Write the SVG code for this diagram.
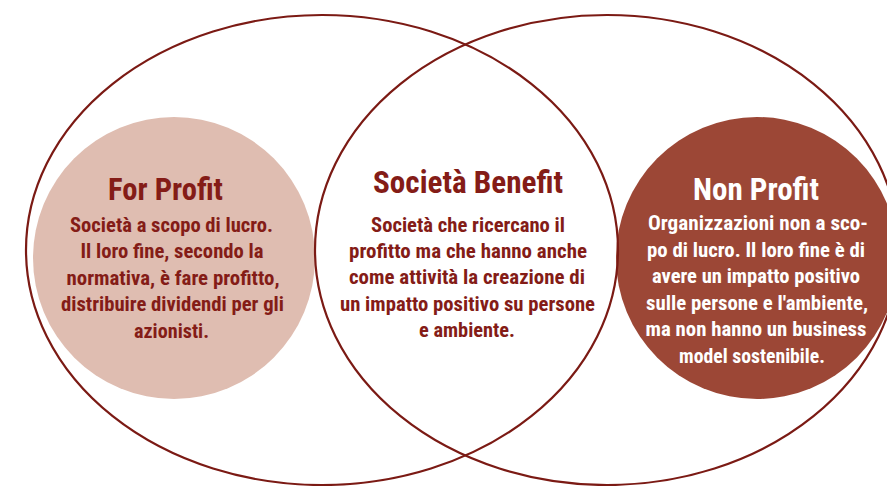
<svg xmlns="http://www.w3.org/2000/svg" width="887" height="486" viewBox="0 0 887 486">
<style>
.ring{fill:none;stroke:#7b1a14;stroke-width:2.2}
.t{font-family:"Roboto Condensed",Roboto,"Liberation Sans",sans-serif;font-weight:700;text-anchor:middle}
.title{font-size:31px}
.body{font-size:21px}
.dark{fill:#841c17}
.light{fill:#ffffff}
</style>
<rect width="887" height="486" fill="#ffffff"/>
<g id="for-profit">
<circle cx="174" cy="258" r="141" fill="#dfbdb1"/>
<text class="t title dark" x="165.5" y="200" textLength="115" lengthAdjust="spacingAndGlyphs">For Profit</text>
<text class="t body dark" x="171.5" y="232" textLength="203" lengthAdjust="spacingAndGlyphs">Società a scopo di lucro.</text>
<text class="t body dark" x="172" y="258" textLength="183" lengthAdjust="spacingAndGlyphs">Il loro fine, secondo la</text>
<text class="t body dark" x="173" y="284.5" textLength="213" lengthAdjust="spacingAndGlyphs">normativa, è fare profitto,</text>
<text class="t body dark" x="172.5" y="311" textLength="223" lengthAdjust="spacingAndGlyphs">distribuire dividendi per gli</text>
<text class="t body dark" x="171.5" y="337.5" textLength="75" lengthAdjust="spacingAndGlyphs">azionisti.</text>
</g>
<g id="non-profit">
<circle cx="757" cy="258" r="141" fill="#9c4736"/>
<text class="t title light" x="756" y="200" textLength="126" lengthAdjust="spacingAndGlyphs">Non Profit</text>
<text class="t body light" x="758" y="230" textLength="220" lengthAdjust="spacingAndGlyphs">Organizzazioni non a sco-</text>
<text class="t body light" x="756" y="256.5" textLength="218" lengthAdjust="spacingAndGlyphs">po di lucro. Il loro fine è di</text>
<text class="t body light" x="756" y="283" textLength="208" lengthAdjust="spacingAndGlyphs">avere un impatto positivo</text>
<text class="t body light" x="757" y="309.5" textLength="222" lengthAdjust="spacingAndGlyphs">sulle persone e l'ambiente,</text>
<text class="t body light" x="756" y="336" textLength="221" lengthAdjust="spacingAndGlyphs">ma non hanno un business</text>
<text class="t body light" x="752" y="362.5" textLength="146" lengthAdjust="spacingAndGlyphs">model sostenibile.</text>
</g>
<g id="connectors">
<ellipse class="ring" cx="322" cy="250" rx="296" ry="235"/>
<ellipse class="ring" cx="607" cy="250" rx="292" ry="235"/>
</g>
<g id="societa-benefit">
<text class="t title dark" x="468" y="193" textLength="190" lengthAdjust="spacingAndGlyphs">Società Benefit</text>
<text class="t body dark" x="468" y="231.5" textLength="194" lengthAdjust="spacingAndGlyphs">Società che ricercano il</text>
<text class="t body dark" x="468" y="257.5" textLength="238" lengthAdjust="spacingAndGlyphs">profitto ma che hanno anche</text>
<text class="t body dark" x="467" y="284" textLength="236" lengthAdjust="spacingAndGlyphs">come attività la creazione di</text>
<text class="t body dark" x="467.5" y="310.5" textLength="255" lengthAdjust="spacingAndGlyphs">un impatto positivo su persone</text>
<text class="t body dark" x="467" y="336.5" textLength="96" lengthAdjust="spacingAndGlyphs">e ambiente.</text>
</g>
</svg>
